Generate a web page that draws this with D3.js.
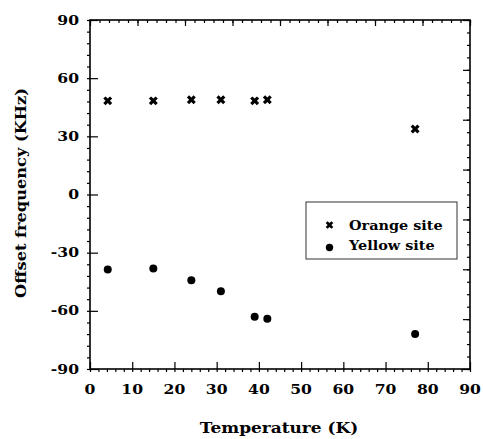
<!DOCTYPE html>
<html>
<head>
<meta charset="utf-8">
<script src="https://cdn.jsdelivr.net/npm/d3@7"></script>
<style>
html,body{margin:0;padding:0;background:#fff;}
svg{display:block;}
text{font-family:"DejaVu Serif","Liberation Serif",serif;font-weight:bold;fill:#000;}
</style>
</head>
<body>
<script>
// ---- data ----
const temperatures = [4.2, 15, 24, 31, 39, 42, 77];
const orangeSite = [48.3, 48.3, 48.9, 48.9, 48.3, 48.9, 33.8];
const yellowSite = [-38.7, -38.2, -44.2, -49.9, -63.1, -64.1, -71.9];
const xTickLabels = [0, 10, 20, 30, 40, 50, 60, 70, 80, 90];
const yTickLabels = [-90, -60, -30, 0, 30, 60, 90];
const seriesNames = ["Orange site", "Yellow site"];
const xTitle = "Temperature (K)";
const yTitle = "Offset frequency (KHz)";

const W = 483, H = 439;
const L = 90, R = 470, T = 20, B = 369;

const svg = d3.select("body").append("svg").attr("width", W).attr("height", H);

const x = d3.scaleLinear().domain([0, 90]).range([L, R]);
const y = d3.scaleLinear().domain([-90, 90]).range([B, T]);
const xTop = d3.scaleLinear().domain([0, 8]).range([L, R]);
const yRight = d3.scaleLinear().domain([0, 7]).range([B, T]);

function styleAxis(g) {
  g.select(".domain").remove();
  g.selectAll(".tick line").attr("stroke", "#000").attr("stroke-width", 1.2);
  g.selectAll(".tick text").remove();
}

svg.append("g").attr("transform", `translate(0,${B})`)
  .call(d3.axisBottom(x).tickValues(d3.range(0, 90.01, 2)).tickSize(3))
  .call(styleAxis);
svg.append("g").attr("transform", `translate(0,${B})`)
  .call(d3.axisBottom(x).tickValues(xTickLabels).tickSize(-7))
  .call(styleAxis);
svg.append("g").attr("transform", `translate(${L},0)`)
  .call(d3.axisLeft(y).tickValues(d3.range(-90, 90.01, 6)).tickSize(3))
  .call(styleAxis);
svg.append("g").attr("transform", `translate(${L},0)`)
  .call(d3.axisLeft(y).tickValues(yTickLabels).tickSize(-8))
  .call(styleAxis);
svg.append("g").attr("transform", `translate(0,${T})`)
  .call(d3.axisTop(xTop).tickValues(d3.range(0, 8.001, 0.2)).tickSize(-3))
  .call(styleAxis);
svg.append("g").attr("transform", `translate(0,${T})`)
  .call(d3.axisTop(xTop).tickValues(d3.range(0, 8.001, 1)).tickSize(-6))
  .call(styleAxis);
svg.append("g").attr("transform", `translate(${R},0)`)
  .call(d3.axisRight(yRight).tickValues(d3.range(0, 7.001, 0.25)).tickSize(-3))
  .call(styleAxis);
svg.append("g").attr("transform", `translate(${R},0)`)
  .call(d3.axisRight(yRight).tickValues(d3.range(0, 7.001, 1)).tickSize(-7))
  .call(styleAxis);

svg.append("rect").attr("x", L).attr("y", T).attr("width", R - L).attr("height", B - T)
  .attr("fill", "none").attr("stroke", "#000").attr("stroke-width", 1.6);

// tick labels
svg.append("g").selectAll("text").data(xTickLabels).join("text")
  .attr("transform", d => `translate(${x(d)},394) scale(1.2,1)`)
  .attr("text-anchor", "middle").attr("font-size", 13).text(d => d);
svg.append("g").selectAll("text").data(yTickLabels).join("text")
  .attr("transform", d => `translate(79,${y(d) + 4.5}) scale(1.2,1)`)
  .attr("text-anchor", "end").attr("font-size", 13).text(d => d);

// titles
svg.append("text").attr("transform", `translate(${x(45) - 1},433) scale(1.13,1)`)
  .attr("text-anchor", "middle").attr("font-size", 15).text(xTitle);
svg.append("text").attr("transform", `translate(26,193) rotate(-90) scale(1.08,1)`)
  .attr("text-anchor", "middle").attr("font-size", 15).text(yTitle);

// data
const crossPath = d3.symbol().type(d3.symbolCross).size(50)();
const crossSmall = d3.symbol().type(d3.symbolCross).size(36)();

svg.append("g").selectAll("path").data(temperatures).join("path")
  .attr("d", crossPath)
  .attr("transform", (d, i) => `translate(${x(d)},${y(orangeSite[i])}) rotate(45)`)
  .attr("fill", "#000");

svg.append("g").selectAll("circle").data(temperatures).join("circle")
  .attr("cx", d => x(d)).attr("cy", (d, i) => y(yellowSite[i])).attr("r", 4)
  .attr("fill", "#000");

// legend
const lg = svg.append("g");
lg.append("rect").attr("x", 306).attr("y", 202).attr("width", 151).attr("height", 57)
  .attr("fill", "#fff").attr("stroke", "#333").attr("stroke-width", 1);
lg.append("path").attr("d", crossSmall).attr("transform", "translate(329.5,225) rotate(45)").attr("fill", "#000");
lg.append("circle").attr("cx", 329.5).attr("cy", 247.5).attr("r", 3.7).attr("fill", "#000");
lg.append("text").attr("transform", "translate(349,230) scale(1.11,1)").attr("font-size", 13).text(seriesNames[0]);
lg.append("text").attr("transform", "translate(349,249.5) scale(1.11,1)").attr("font-size", 13).text(seriesNames[1]);
</script>
</body>
</html>
